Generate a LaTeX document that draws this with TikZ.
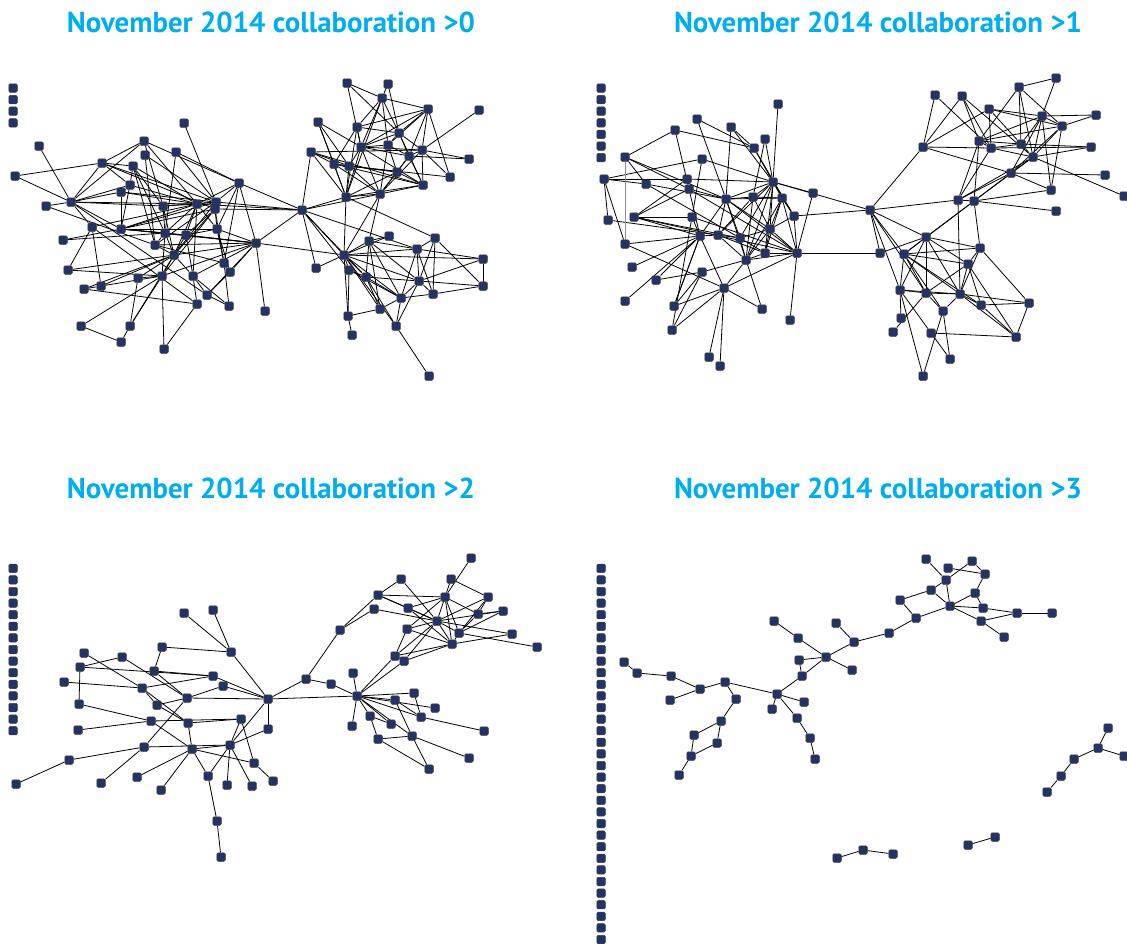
\documentclass[tikz,border=0pt]{standalone}
\usepackage{fontspec}
\setmainfont{PT Sans}
\usetikzlibrary{backgrounds}
\definecolor{titlecyan}{RGB}{0,174,239}
\definecolor{vfill}{RGB}{33,52,99}
\definecolor{vline}{RGB}{60,60,66}
\tikzset{
  vx/.style={rectangle, rounded corners=1.3pt, minimum size=8.5pt, inner sep=0pt,
             fill=vfill, draw=vline, line width=0.5pt},
  ed/.style={draw=black, line width=0.8pt},
  paneltitle/.style={text=titlecyan, font=\bfseries, inner sep=0pt}
}
\newcommand{\ptitle}[1]{\resizebox{408pt}{!}{November 2014 collaboration >#1}}
\begin{document}
\begin{tikzpicture}[x=1pt,y=-1pt]
\useasboundingbox (0,0) rectangle (1127,943);

% ---------- titles ----------
\node[paneltitle] (t0) at (271,22) {\ptitle{0}};
\node[paneltitle] (t1) at (878,22) {\ptitle{1}};
\node[paneltitle] (t2) at (271,488) {\ptitle{2}};
\node[paneltitle] (t3) at (878,488) {\ptitle{3}};

% ---------- isolated vertices ----------
\foreach \k in {0,...,3} \node[vx] (ia\k) at (13,{88+11.6*\k}) {};
\foreach \k in {0,...,6} \node[vx] (ib\k) at (601,{88+11.6*\k}) {};
\foreach \k in {0,...,14} \node[vx] (ic\k) at (13,{568.3+11.6*\k}) {};
\foreach \k in {0,...,32} \node[vx] (id\k) at (601,{568.3+11.6*\k}) {};

% ---------- panel >0 ----------
\foreach \n/\x/\y in {A1/184/123, A2/39/146, A3/144/141, A4/145/155, A5/176/152,
  A6/102/163, A7/133/166, A8/15/176, A9/239/183, A10/130/185, A11/121/192,
  A12/71/202, A13/46/206, A14/163/206, A15/197/204, A16/216/202, A17/215/209,
  A18/92/227, A19/121/229, A20/217/229, A21/63/240, A22/165/233, A23/186/235,
  A24/155/245, A25/256/243, A26/174/255, A27/224/263, A28/68/270, A29/230/272,
  A30/193/276, A31/162/276, A32/138/278, A33/84/289, A34/101/286, A35/207/295,
  A36/197/304, A37/229/306, A38/265/311, A39/81/326, A40/130/326, A41/121/342,
  A42/164/349,
  B1/347/83, B2/388/84, B3/382/98, B4/428/109, B5/479/110, B6/318/122, B7/357/127,
  B8/399/133, B9/388/145, B10/361/147, B11/422/150, B12/311/152, B13/409/156,
  B14/469/159, B15/334/164, B16/349/166, B17/397/172, B18/450/177, B19/423/185,
  B20/346/197, B21/380/194,
  C1/302/210, C2/389/236, C3/369/241, C4/435/238, C5/417/249, C6/344/255,
  C7/483/259, C8/316/268, C9/349/270, C10/366/277, C11/419/281, C12/433/294,
  C13/483/286, C14/401/298, C15/380/309, C16/348/316, C17/396/326, C18/352/335,
  C19/429/376}
  \node[vx] (\n) at (\x,\y) {};

% ---------- panel >1 ----------
\foreach \n/\x/\y in {D1/778/104, D2/697/119, D3/731/127, D4/675/130, D5/765/139,
  D6/754/148, D7/625/157, D8/702/159, D9/604/179, D10/646/184, D11/687/179,
  D12/773/182, D13/689/189, D14/813/193, D15/726/199, D16/753/197, D17/782/198,
  D18/608/220, D19/634/217, D20/692/217, D21/794/216, D22/700/236, D23/718/235,
  D24/740/238, D25/770/229, D26/625/244, D27/765/253, D28/797/253, D29/746/260,
  D30/632/267, D31/702/272, D32/656/280, D33/724/288, D34/625/301, D35/674/306,
  D36/762/309, D37/790/320, D38/672/330, D39/709/357, D40/720/366,
  E1/1056/78, E2/1019/87, E3/935/95, E4/962/96, E5/989/109, E6/1096/115,
  E7/1042/116, E8/1062/126, E9/923/147, E10/979/141, E11/991/148, E12/1021/144,
  E13/1033/157, E14/1091/147, E15/1011/173, E16/1105/175, E17/1051/190,
  E18/1124/196, E19/958/200, E20/974/201, E21/1056/211, E22/870/210, E23/926/237,
  E24/880/253, E25/904/254, E26/980/248, E27/968/264, E28/900/290, E29/926/293,
  E30/960/294, E31/981/305, E32/1029/303, E33/943/311, E34/901/318, E35/893/332,
  E36/931/333, E37/1016/337, E38/950/359, E39/923/376}
  \node[vx] (\n) at (\x,\y) {};

% ---------- panel >2 ----------
\foreach \n/\x/\y in {F1/184/613, F2/213/610, F3/162/647, F4/231/652, F5/84/653,
  F6/122/657, F7/80/667, F8/154/671, F9/213/676, F10/64/682, F11/142/688,
  F12/223/686, F13/187/698, F14/268/699, F15/157/705, F16/79/704, F17/151/721,
  F18/188/723, F19/241/719, F20/78/730, F21/268/729, F22/144/747, F23/192/749,
  F24/230/745, F25/69/760, F26/254/763, F27/137/777, F28/208/776, F29/16/784,
  F30/101/783, F31/161/790, F32/227/785, F33/252/786, F34/273/781, F35/217/821,
  F36/221/857,
  G1/471/558, G2/401/579, G3/451/579, G4/378/595, G5/445/597, G6/488/597,
  G7/374/609, G8/408/608, G9/503/611, G10/478/614, G11/437/621, G12/340/630,
  G13/407/629, G14/459/633, G15/512/634, G16/452/644, G17/537/647, G18/395/656,
  G19/404/661, G20/353/673, G21/306/679, G22/331/684, G23/357/696, G24/414/693,
  G25/395/700, G26/435/708, G27/370/716, G28/421/717, G29/352/726, G30/484/731,
  G31/391/724, G32/412/736, G33/378/739, G34/469/758, G35/429/769}
  \node[vx] (\n) at (\x,\y) {};

% ---------- panel >3 ----------
\foreach \n/\x/\y in {H1/926/559, H2/972/561, H3/948/568, H4/985/574, H5/946/580,
  H6/931/590, H7/975/593, H8/900/600, H9/950/606, H10/983/608, H11/1017/613,
  H12/1052/613, H13/916/618, H14/981/621, H15/1004/637, H16/774/621, H17/836/623,
  H18/889/633, H19/798/638, H20/854/642, H21/826/657, H22/799/660, H23/852/670,
  H24/624/662, H25/637/673, H26/671/676, H27/802/676, H28/725/682, H29/700/689,
  H30/777/694, H31/736/699, H32/670/700, H33/804/702, H34/772/709, H35/797/718,
  H36/721/721, H37/694/735, H38/717/743, H39/810/738, H40/691/756, H41/815/759,
  H42/679/775, H43/1108/728, H44/1098/748, H45/1124/756, H46/1074/759,
  H47/1061/776, H48/1047/792, H49/837/858, H50/863/850, H51/893/854,
  H52/968/845, H53/995/837}
  \node[vx] (\n) at (\x,\y) {};

% ---------- edges, drawn beneath the vertices ----------
\begin{pgfonlayer}{background}
\fill[white] (0,0) rectangle (1127,943);
\foreach \a/\b in {A1/A16, A2/A12, A8/A6, A8/A12, A3/A6, A3/A9, A3/A12, A3/A14,
  A3/A15, A4/A24, A4/A16, A5/A22, A5/A16, A5/A9, A6/A7, A6/A12, A6/A10, A6/A16,
  A6/A17, A7/A14, A7/A15, A7/A22, A7/A24, A7/A10, A9/A16, A9/A20, A9/A25, A9/A15,
  A9/A27, A9/C1, A10/A15, A10/A19, A11/A12, A11/A15, A11/A19, A11/A16, A12/A13,
  A12/A19, A12/A18, A12/A14, A12/A15, A12/A35, A13/A24, A14/A22, A14/A26, A14/A16,
  A14/A15, A15/A16, A15/A19, A15/A22, A15/A23, A15/A26, A15/A30, A15/A20, A15/C1,
  A16/A17, A16/A19, A16/A24, A16/A26, A16/C1, A17/A20, A17/A27, A17/A23, A17/A31,
  A17/A26, A17/C1, A18/A28, A18/A34, A18/A15, A18/A36, A19/A17, A19/A22, A19/A23,
  A19/A20, A19/A25, A20/A25, A20/A27, A20/A29, A21/A19, A21/A22, A22/A26, A22/A24,
  A22/A25, A22/A31, A23/A25, A23/A26, A23/A30, A23/A20, A24/A26, A24/A25, A24/A27,
  A25/A26, A25/A29, A25/A31, A25/A30, A25/A38, A25/C1, A25/C6, A26/A32, A26/A33,
  A26/A34, A26/A31, A26/A30, A26/A40, A28/A26, A28/A31, A29/A35, A30/A35, A30/A36,
  A30/A37, A31/A32, A31/A39, A31/A42, A31/A40, A32/A40, A33/A36, A33/A34, A34/A31,
  A35/A37, A35/A25, A36/A42, A37/A27, A39/A41, A40/A41, A12/A10}
  \draw[ed] (\a) -- (\b);
\foreach \a/\b in {B1/B3, B1/B8, B1/B10, B2/B3, B2/B8, B3/B4, B3/B7, B3/B10, B3/B8,
  B3/B9, B3/B20, B4/B8, B4/B9, B4/B11, B4/B13, B4/B18, B4/B10, B4/B7, B5/B11,
  B6/B15, B6/B20, B6/B16, B6/B10, B7/B10, B7/B15, B7/B8, B7/B20, B8/B9, B8/B11,
  B8/B13, B8/B19, B8/B10, B9/B10, B9/B13, B9/B21, B9/B17, B10/B11, B10/B13,
  B10/B16, B10/B20, B10/B21, B10/B19, B11/B13, B11/B14, B11/B18, B11/B19, B11/B21,
  B11/B12, B12/B15, B12/B16, B12/B20, B12/C1, B12/B19, B13/B17, B13/B19, B13/B21,
  B13/B14, B15/B16, B15/B17, B15/B21, B15/B20, B15/B19, B16/B17, B16/B21, B16/B20,
  B16/B18, B17/B21, B17/B19, B17/B20, B19/B21, B19/B20, B20/B21, B20/C1, B20/C6,
  B20/C4, B21/C1, B21/C6, B21/C3, C1/C6, C1/C9, C1/C8, C1/C5, C1/C10, C6/C2, C6/C3,
  C6/C5, C6/C7, C6/C8, C6/C9, C6/C10, C6/C11, C6/C14, C6/C15, C6/C16, C6/C17,
  C3/C2, C3/C5, C3/C10, C3/C11, C3/C14, C3/C15, C4/C5, C4/C11, C4/C12, C4/C13,
  C5/C7, C5/C11, C5/C12, C5/C14, C7/C13, C7/C11, C9/C10, C9/C16, C9/C14, C10/C14,
  C10/C15, C10/C17, C10/C11, C11/C12, C11/C13, C11/C14, C11/C17, C12/C13, C12/C14,
  C14/C15, C15/C16, C16/C18, C17/C19, C14/C17}
  \draw[ed] (\a) -- (\b);
\foreach \a/\b in {D1/D12, D2/D15, D2/D6, D3/D15, D3/D12, D3/D6, D4/D7, D4/D6,
  D4/D13, D5/D12, D5/D16, D6/D12, D6/D21, D7/D10, D7/D15, D7/D13, D8/D9, D8/D12,
  D8/D20, D9/D18, D9/D26, D9/D10, D9/D11, D10/D24, D10/D15, D11/D12, D11/D19,
  D12/D14, D12/D15, D12/D16, D12/D17, D12/D21, D12/D23, D12/D24, D12/D25, D12/D27,
  D12/D29, D12/E22, D13/D19, D13/D22, D13/D15, D13/D28, D14/D28, D15/D16, D15/D17,
  D15/D23, D15/D24, D15/D25, D15/D29, D15/D28, D15/D22, D16/D17, D16/D23, D16/D25,
  D16/D29, D17/D21, D17/D25, D17/D27, D17/D28, D17/D29, D18/D23, D19/D20, D19/D22,
  D19/D24, D19/D28, D20/D22, D20/D38, D20/D28, D21/D25, D21/D28, D21/E22, D22/D23,
  D22/D32, D22/D34, D22/D35, D22/D33, D23/D24, D23/D29, D23/D27, D24/D25, D24/D27,
  D24/D29, D25/D27, D25/D28, D25/D29, D26/D22, D26/D33, D27/D28, D27/D29, D28/D29,
  D28/D33, D28/D37, D28/E24, D29/D33, D30/D22, D31/D29, D31/D32, D33/D35, D33/D36,
  D33/D38, D33/D39, D33/D40, D35/D31, D35/D22, D36/D29, D38/D31}
  \draw[ed] (\a) -- (\b);
\draw[ed, draw=black!45] (D7) -- (D26);
\foreach \a/\b in {E1/E2, E1/E7, E2/E12, E2/E13, E2/E8, E2/E10, E3/E9, E3/E11,
  E4/E9, E4/E10, E4/E11, E4/E13, E5/E9, E5/E7, E5/E8, E5/E11, E5/E12, E6/E7, E6/E8,
  E7/E8, E7/E10, E7/E12, E7/E13, E7/E15, E7/E17, E8/E10, E8/E13, E8/E15, E8/E17,
  E9/E11, E9/E22, E9/E15, E10/E11, E10/E12, E10/E19, E10/E20, E11/E12, E11/E13,
  E11/E14, E11/E19, E12/E13, E12/E14, E13/E14, E13/E15, E13/E19, E13/E20, E13/E18,
  E15/E16, E15/E19, E15/E20, E15/E17, E20/E21, E20/E17, E19/E20, E19/E22, E19/E30,
  E20/E26, E20/E23, E20/E25, E22/E23, E22/E24, E22/E25, E22/E28, E22/E29, E23/E25,
  E23/E24, E23/E26, E23/E27, E23/E28, E23/E29, E23/E30, E25/E26, E25/E27, E25/E28,
  E25/E29, E25/E30, E25/E31, E25/E33, E26/E27, E26/E30, E26/E32, E27/E29, E27/E30,
  E27/E31, E27/E37, E28/E29, E28/E30, E28/E34, E28/E36, E28/E39, E29/E30, E29/E33,
  E30/E31, E30/E32, E30/E33, E30/E37, E31/E32, E31/E37, E33/E38, E33/E39, E36/E37,
  E36/E38, E32/E37, E35/E29}
  \draw[ed] (\a) -- (\b);
\foreach \a/\b in {F1/F4, F2/F4, F4/F14, F3/F4, F3/F8, F5/F11, F6/F7, F6/F13,
  F7/F9, F7/F16, F10/F11, F8/F9, F8/F13, F11/F9, F11/F15, F11/F18, F9/F14, F12/F14,
  F13/F12, F13/F14, F13/F22, F15/F18, F15/F13, F16/F17, F17/F19, F17/F23, F18/F19,
  F18/F23, F19/F26, F19/F24, F14/F21, F14/F24, F20/F17, F22/F24, F22/F25, F25/F29,
  F22/F30, F23/F27, F23/F31, F23/F28, F23/F24, F23/F26, F24/F28, F24/F32, F24/F33,
  F24/F21, F26/F34, F28/F35, F35/F36, F14/G21, F14/G23}
  \draw[ed] (\a) -- (\b);
\foreach \a/\b in {G1/G5, G2/G4, G2/G11, G3/G6, G3/G5, G4/G5, G4/G12, G4/G8,
  G4/G11, G7/G12, G7/G11, G8/G5, G8/G11, G8/G16, G5/G11, G5/G14, G5/G16, G5/G13,
  G5/G10, G6/G10, G6/G14, G6/G11, G9/G11, G9/G10, G9/G14, G10/G14, G11/G14,
  G11/G16, G11/G13, G11/G18, G11/G19, G11/G15, G13/G16, G13/G18, G14/G16, G15/G16,
  G14/G17, G16/G18, G16/G19, G18/G23, G19/G23, G12/G21, G21/G22, G22/G23, G20/G23,
  G23/G24, G23/G25, G23/G26, G23/G28, G23/G27, G23/G29, G23/G31, G23/G32, G24/G28,
  G25/G28, G27/G31, G27/G33, G32/G33, G32/G34, G32/G35, G33/G35, G28/G30, G25/G32}
  \draw[ed] (\a) -- (\b);
\foreach \a/\b in {H1/H5, H3/H4, H5/H2, H2/H4, H4/H7, H5/H6, H5/H9, H6/H8, H6/H9,
  H7/H9, H7/H10, H9/H10, H10/H11, H9/H14, H9/H13, H8/H13, H14/H11, H11/H12, H14/H15,
  H13/H18, H18/H20, H20/H17, H20/H21, H21/H19, H19/H16, H21/H22, H21/H23, H21/H27,
  H22/H27, H27/H30, H30/H28, H28/H31, H28/H29, H29/H26, H26/H25, H25/H24, H29/H32,
  H30/H34, H30/H33, H30/H35, H35/H39, H39/H41, H31/H36, H36/H37, H36/H38, H37/H40,
  H38/H40, H40/H42, H43/H44, H44/H45, H44/H46, H46/H47, H47/H48, H49/H50, H50/H51,
  H52/H53}
  \draw[ed] (\a) -- (\b);
\end{pgfonlayer}
\end{tikzpicture}
\end{document}
